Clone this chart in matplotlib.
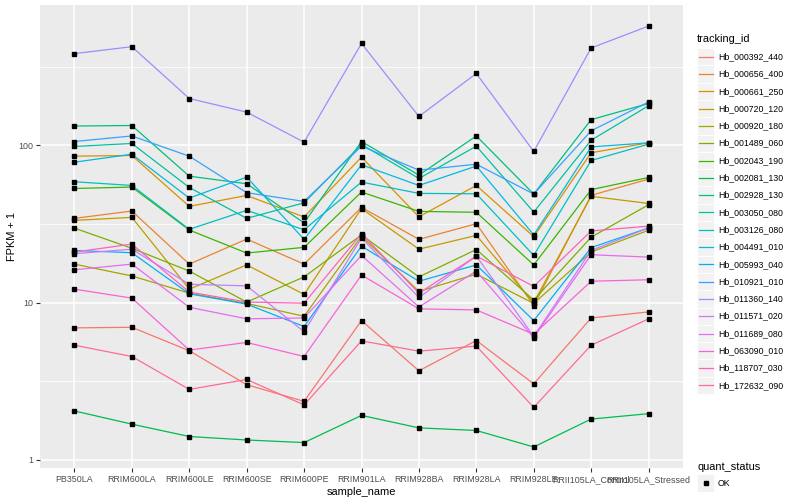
import numpy as np
import matplotlib
matplotlib.use("Agg")
import matplotlib.pyplot as plt
from matplotlib.lines import Line2D
from matplotlib.patches import Rectangle

plt.rcParams['font.family'] = ['Liberation Sans', 'DejaVu Sans']

# sample names on the x axis
samples = ["PB350LA", "RRIM600LA", "RRIM600LE", "RRIM600SE", "RRIM600PE", "RRIM901LA",
           "RRIM928BA", "RRIM928LA", "RRIM928LE", "RRII105LA_Control", "RRII105LA_Stressed"]

# FPKM + 1 per tracking id
Hb_000392_440 = [6.92, 6.98, 4.95, 3.01, 2.36, 7.7, 3.69, 5.75, 3.05, 8.0, 8.74]
Hb_000656_400 = [34.4, 38.3, 17.6, 25.4, 17.6, 40.4, 25.3, 31.8, 9.6, 48.2, 61.1]
Hb_000661_250 = [85.5, 86.4, 41.0, 48.1, 35.1, 84.3, 35.2, 55.7, 26.3, 89.9, 104]
Hb_000720_120 = [33.4, 34.9, 12.2, 17.4, 11.3, 39.7, 21.9, 26.8, 10.0, 47.5, 42.8]
Hb_000920_180 = [17.6, 14.8, 11.5, 9.9, 8.2, 26.5, 11.8, 15.2, 9.9, 21.0, 28.9]
Hb_001489_060 = [29.8, 22.2, 15.9, 10.1, 14.6, 27.0, 14.6, 21.8, 10.4, 26.1, 42.0]
Hb_002043_190 = [53.3, 54.4, 29.0, 20.7, 22.5, 50.6, 38.1, 37.6, 17.4, 52.4, 62.6]
Hb_002081_130 = [2.05, 1.69, 1.41, 1.34, 1.29, 1.92, 1.60, 1.54, 1.21, 1.82, 1.97]
Hb_002928_130 = [133, 134, 63.8, 57.1, 32.2, 106, 64.8, 115, 49.1, 146, 185]
Hb_003050_080 = [98.6, 103, 54.1, 34.4, 43.2, 101.5, 61.7, 99, 37.7, 108, 179]
Hb_003126_080 = [58.8, 55.7, 29.3, 38.7, 29.1, 58.5, 49.6, 49.3, 20.0, 80.3, 102]
Hb_004491_010 = [78.3, 88, 46.3, 62.9, 25.3, 75.4, 55.7, 74, 27.0, 98, 104]
Hb_005993_040 = [21.5, 20.8, 11.4, 9.8, 7.06, 22.9, 13.7, 17.4, 7.7, 22.4, 29.9]
Hb_010921_010 = [106, 115, 85.5, 50.1, 44.1, 99, 69.7, 76, 49.1, 124, 189]
Hb_011360_140 = [384, 425, 199, 163, 105, 446, 153, 287, 91.6, 417, 575]
Hb_011571_020 = [20.5, 21.9, 13.1, 12.8, 6.54, 25.8, 10.8, 19.8, 6.1, 21.5, 29.9]
Hb_011689_080 = [16.2, 17.6, 9.36, 7.9, 8.0, 20.0, 9.4, 15.9, 6.0, 20.2, 19.5]
Hb_063090_010 = [12.2, 10.7, 5.0, 5.59, 4.55, 15.0, 9.14, 9.0, 6.3, 13.7, 14.0]
Hb_118707_030 = [21.0, 23.6, 11.7, 10.1, 9.93, 27.5, 11.5, 19.8, 12.7, 28.6, 30.7]
Hb_172632_090 = [5.37, 4.55, 2.81, 3.25, 2.24, 5.72, 4.92, 5.3, 2.16, 5.37, 7.89]

series = [
    ("Hb_000392_440", Hb_000392_440), ("Hb_000656_400", Hb_000656_400),
    ("Hb_000661_250", Hb_000661_250), ("Hb_000720_120", Hb_000720_120),
    ("Hb_000920_180", Hb_000920_180), ("Hb_001489_060", Hb_001489_060),
    ("Hb_002043_190", Hb_002043_190), ("Hb_002081_130", Hb_002081_130),
    ("Hb_002928_130", Hb_002928_130), ("Hb_003050_080", Hb_003050_080),
    ("Hb_003126_080", Hb_003126_080), ("Hb_004491_010", Hb_004491_010),
    ("Hb_005993_040", Hb_005993_040), ("Hb_010921_010", Hb_010921_010),
    ("Hb_011360_140", Hb_011360_140), ("Hb_011571_020", Hb_011571_020),
    ("Hb_011689_080", Hb_011689_080), ("Hb_063090_010", Hb_063090_010),
    ("Hb_118707_030", Hb_118707_030), ("Hb_172632_090", Hb_172632_090),
]

# ggplot default hue palette, 20 levels
colors = ["#F8766D", "#EA8331", "#D89000", "#C09B00", "#A3A500", "#7CAE00", "#39B600",
          "#00BB4E", "#00BF7D", "#00C1A3", "#00BFC4", "#00BAE0", "#00B0F6", "#35A2FF",
          "#9590FF", "#C77CFF", "#E76BF3", "#FA62DB", "#FF62BC", "#FF6C91"]

W, H = 800, 500
fig = plt.figure(figsize=(8, 5), dpi=100)
ax = fig.add_axes([40 / W, 1 - 468 / H, (683 - 40) / W, (468 - 5) / H])
ax.set_facecolor("#EBEBEB")
for s in ax.spines.values():
    s.set_visible(False)

x = np.arange(len(samples))
for (name, vals), c in zip(series, colors):
    ax.plot(x, vals, color=c, lw=0.9, zorder=3)
for name, vals in series:
    ax.plot(x, vals, ls="none", marker="s", ms=2.6, color="black", zorder=4)

ax.set_yscale("log")
allv = np.log10(np.concatenate([v for _, v in series]))
lo, hi = allv.min(), allv.max()
r = hi - lo
ax.set_ylim(10 ** (lo - 0.05 * r), 10 ** (hi + 0.05 * r))
ax.set_xlim(-0.6, len(samples) - 0.4)

ax.set_yticks([1, 10, 100])
ax.set_yticklabels(["1", "10", "100"])
ax.yaxis.set_minor_locator(matplotlib.ticker.FixedLocator([10 ** 0.5, 10 ** 1.5, 10 ** 2.5]))
ax.yaxis.set_minor_formatter(matplotlib.ticker.NullFormatter())
ax.set_xticks(x)
ax.set_xticklabels(samples)

ax.grid(True, which="major", color="white", lw=1.1, zorder=0)
ax.grid(True, which="minor", axis="y", color="white", lw=0.55, zorder=0)
ax.set_axisbelow(True)
ax.tick_params(axis="both", which="major", length=3, width=0.8, color="#333333",
               labelsize=6.4, labelcolor="#4D4D4D", pad=2)
ax.tick_params(axis="y", which="minor", length=0)

ax.set_xlabel("sample_name", fontsize=7.9, labelpad=2)
ax.set_ylabel("FPKM + 1", fontsize=7.9, labelpad=1)

# legend drawn by hand to follow the ggplot layout
def fx(px):
    return px / W

def fy(py):
    return 1 - py / H

fig.text(fx(697), fy(39.5), "tracking_id", fontsize=7.9, va="center", ha="left")
key = 17.3
for i, ((name, vals), c) in enumerate(zip(series, colors)):
    yc = 56.7 + key * i
    fig.patches.append(Rectangle((fx(697), fy(yc + key / 2)), key / W, key / H,
                                 transform=fig.transFigure, facecolor="#F2F2F2",
                                 edgecolor="white", lw=0.6))
    fig.lines.append(Line2D([fx(699), fx(712.5)], [fy(yc), fy(yc)], transform=fig.transFigure,
                            color=c, lw=0.9))
    fig.text(fx(718), fy(yc), name, fontsize=6.3, va="center", ha="left")

fig.text(fx(697), fy(466.5), "quant_status", fontsize=7.9, va="center", ha="left")
yc = 483
fig.patches.append(Rectangle((fx(697), fy(yc + key / 2)), key / W, key / H,
                             transform=fig.transFigure, facecolor="#F2F2F2",
                             edgecolor="white", lw=0.6))
fig.lines.append(Line2D([fx(705.6)], [fy(yc)], transform=fig.transFigure, ls="none",
                        marker="s", ms=2.6, color="black"))
fig.text(fx(718), fy(yc), "OK", fontsize=6.3, va="center", ha="left")

fig.savefig("out.png", dpi=100, facecolor="white")
